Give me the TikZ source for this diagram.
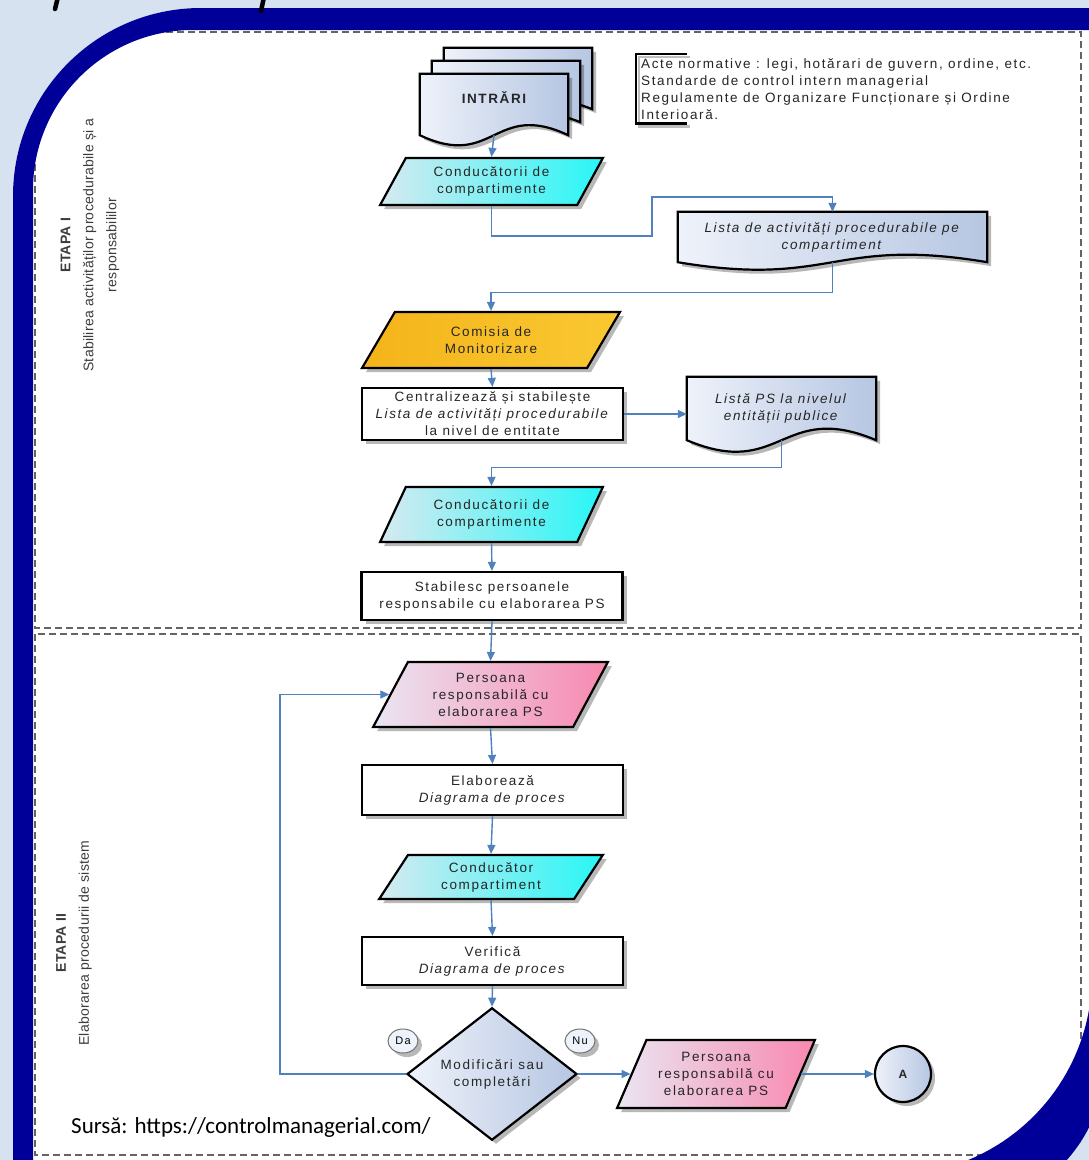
\documentclass[tikz,border=0pt]{standalone}
\usepackage{fontspec}
\setmainfont{Liberation Sans}
\newfontfamily\boxfont[LetterSpace=12]{Liberation Sans}
\newfontfamily\lanefont[LetterSpace=2]{Liberation Sans}
\newfontfamily\srcfont{Carlito}
\usetikzlibrary{shapes.geometric,arrows.meta,calc,shadows}

\pgfdeclarelayer{paper}
\pgfdeclarelayer{sheets}
\pgfdeclarelayer{frame}
\pgfsetlayers{paper,sheets,main,frame}

\definecolor{pagebg}{RGB}{214,226,240}
\definecolor{framebl}{RGB}{0,0,153}
\definecolor{linkbl}{RGB}{79,129,189}
\definecolor{cyanL}{RGB}{214,234,240}
\definecolor{cyanR}{RGB}{40,246,246}
\definecolor{goldL}{RGB}{244,180,26}
\definecolor{goldR}{RGB}{250,200,50}
\definecolor{pinkL}{RGB}{234,230,242}
\definecolor{pinkR}{RGB}{248,136,176}
\definecolor{docL}{RGB}{238,242,250}
\definecolor{docR}{RGB}{182,198,226}
\definecolor{lanegray}{RGB}{100,100,100}
\definecolor{labelgray}{RGB}{60,60,60}

% document sheet with a wavy lower edge, drawn round a named node
\newcommand\docoutline[2]{%
  \draw[docfill] (#1.north west) -- (#1.north east) -- (#1.south east)
    .. controls ($(#1.south east)!0.5!(#1.south west)+(0,-#2)$)
            and ($(#1.south east)!0.5!(#1.south west)+(0,#2)$) .. (#1.south west) -- cycle;}

\begin{document}
\begin{tikzpicture}[x=1pt,y=-1pt,
  boxshadow/.style={drop shadow={shadow xshift=4pt,shadow yshift=-4pt,opacity=0.28,fill=black}},
  boxtext/.style={font=\boxfont\fontsize{13.5}{17}\selectfont, align=center, text=black!85},
  base/.style={boxtext, draw=black, line width=2.2pt, inner sep=2pt, boxshadow},
  procbox/.style={base, rectangle, fill=white, minimum width=261pt},
  para/.style={base, trapezium, trapezium left angle=62, trapezium right angle=118,
               trapezium stretches=true},
  cyanpara/.style={para, left color=cyanL, right color=cyanR},
  goldpara/.style={para, left color=goldL, right color=goldR},
  pinkpara/.style={para, left color=pinkL, right color=pinkR},
  docnode/.style={boxtext, rectangle, inner sep=0pt},
  docfill/.style={draw=black, line width=2.2pt, left color=docL, right color=docR, boxshadow},
  link/.style={draw=linkbl, line width=1.4pt, -{Triangle[length=9pt,width=8pt]}},
  lane/.style={draw=lanegray, line width=1.1pt, dash pattern=on 7pt off 4pt},
  lanelabel/.style={rotate=90, align=center, text=labelgray, font=\lanefont\fontsize{14}{23}\selectfont},
  answer/.style={ellipse, draw=black!55, line width=1pt, fill=docL, inner sep=0pt,
                 minimum width=30pt, minimum height=24pt, boxshadow,
                 font=\boxfont\fontsize{11}{12}\selectfont}]
\useasboundingbox (0,0) rectangle (1089,1160);

% sheet and swimlanes
\begin{pgfonlayer}{paper}
  \fill[white] (0,0) rectangle (1089,1160);
  \draw[lane] (35,32) rectangle (1081,628);
  \draw[lane] (35,634) rectangle (1081,1155);
\end{pgfonlayer}

\node[lanelabel] (etapa1) at (90,245)
  {\textbf{ETAPA I}\\Stabilirea activităților procedurabile și a\\responsabililor};
\node[lanelabel] (etapa2) at (74,943)
  {\textbf{ETAPA II}\\Elaborarea procedurii de sistem};

% inputs: stack of three sheets
\node[docnode, minimum width=148pt, minimum height=61pt] (intrb) at (518,78.5) {};
\node[docnode, minimum width=148pt, minimum height=61pt] (intrm) at (506,91.5) {};
\node[docnode, minimum width=148pt, minimum height=61pt, text depth=14pt,
      font=\boxfont\fontsize{13.5}{17}\selectfont\bfseries] (intr) at (494,104.5) {INTRĂRI};
\begin{pgfonlayer}{sheets}
  \docoutline{intrb}{30}
  \docoutline{intrm}{30}
  \docoutline{intr}{35}
\end{pgfonlayer}

% note on the inputs, with its bracket and the bracket's soft shadow
\node[boxtext, anchor=north west, align=left, inner sep=0pt] (note) at (641,58)
  {Acte normative : legi, hotărari de guvern, ordine, etc.\\
   Standarde de control intern managerial\\
   Regulamente de Organizare Funcționare și Ordine\\
   Interioară.};
\coordinate (nta) at ($(note.north west)+(46,-4)$);
\coordinate (ntb) at ($(note.north west)+(-5,-4)$);
\coordinate (ntc) at ($(note.south west)+(-5,4)$);
\coordinate (ntd) at ($(note.south west)+(46,4)$);
\draw[line width=2.4pt, black!25] ($(nta)+(3,3)$) -- ($(ntb)+(3,3)$) -- ($(ntc)+(3,3)$) -- ($(ntd)+(3,3)$);
\draw[line width=2.4pt] (nta) -- (ntb) -- (ntc) -- (ntd);

% stage I
\node[cyanpara, minimum width=223pt, minimum height=47pt] (cond1) at (491.5,181.5)
  {Conducătorii de\\compartimente};
\node[docnode, minimum width=309pt, minimum height=50pt] (lista) at (832.5,237)
  {\textit{Lista de activități procedurabile pe}\\\textit{compartiment}};
\node[goldpara, minimum width=258pt, minimum height=56pt] (comisia) at (491,340)
  {Comisia de\\Monitorizare};
\node[procbox, minimum height=52pt] (centr) at (492.5,414)
  {Centralizează și stabilește\\\textit{Lista de activități procedurabile}\\la nivel de entitate};
\node[docnode, minimum width=189pt, minimum height=63pt] (listaps) at (781.5,408.5)
  {\textit{Listă PS la nivelul}\\\textit{entității publice}};
\node[cyanpara, minimum width=223pt, minimum height=55pt] (cond2) at (491.5,514.5)
  {Conducătorii de\\compartimente};
\node[procbox, minimum height=48pt] (stab) at (492,596)
  {Stabilesc persoanele\\responsabile cu elaborarea PS};
\begin{pgfonlayer}{sheets}
  \docoutline{lista}{26}
  \docoutline{listaps}{40}
\end{pgfonlayer}

% stage II
\node[pinkpara, minimum width=235pt, minimum height=65pt] (pers1) at (490.5,694.5)
  {Persoana\\responsabilă cu\\elaborarea PS};
\node[procbox, minimum height=50pt] (elab) at (492.5,790)
  {Elaborează\\\textit{Diagrama de proces}};
\node[cyanpara, minimum width=224pt, minimum height=44pt] (cond3) at (491,877)
  {Conducător\\compartiment};
\node[procbox, minimum height=48pt] (verif) at (492.5,961)
  {Verifică\\\textit{Diagrama de proces}};
\node[base, diamond, inner sep=0pt, minimum width=170pt, minimum height=108pt,
      left color=docL, right color=docR] (dia) at (492,1074)
  {Modificări sau\\completări};
\node[answer] (da) at (403,1041) {Da};
\node[answer] (nu) at (580,1041) {Nu};
\node[pinkpara, minimum width=198pt, minimum height=68pt] (pers2) at (716,1074)
  {Persoana\\responsabilă cu\\elaborarea PS};
\node[base, circle, minimum size=56pt, inner sep=0pt, left color=docL, right color=docR,
      font=\boxfont\fontsize{12}{14}\selectfont\bfseries] (conA) at (903,1074) {A};

\node[anchor=west, inner sep=0pt, font=\srcfont\fontsize{23}{26}\selectfont] (src) at (71,1127)
  {Sursă: https://controlmanagerial.com/};

% connectors
\coordinate (k1) at (652,236);
\coordinate (k2) at (652,197);
\coordinate (k4) at (280,880);
\draw[link] (intr.south) -- (cond1.north);
\draw[link] (cond1.south) |- (k1) -- (k2) -| (lista.north);
\draw[link] (lista.south) -- ++(0,30) -| (comisia.north);
\draw[link] (comisia.south) -- (centr.north);
\draw[link] (centr.east) -- (centr.east -| listaps.west);
\draw[link] (listaps.south) -- ++(0,27) -| (cond2.north);
\draw[link] (cond2.south) -- (stab.north);
\draw[link] (stab.south) -- (pers1.north);
\draw[link] (pers1.south) -- (elab.north);
\draw[link] (elab.south) -- (cond3.north);
\draw[link] (cond3.south) -- (verif.north);
\draw[link] (verif.south) -- (dia.north);
\draw[link] (dia.west) -| (k4) |- (pers1.left side);
\draw[link] (dia.east) -- (pers2.left side);
\draw[link] (pers2.right side) -- (conA.west);

% rounded blue frame over the page background
\begin{pgfonlayer}{frame}
  \fill[pagebg, even odd rule] (-5,-5) rectangle (1095,1165)
    (13,1210) -- (13,196) .. controls (13,92.2) and (97.2,8) .. (201,8) -- (1105,8)
    -- (1105,1060) .. controls (1105,1142.8) and (1037.8,1210) .. (955,1210) -- cycle;
  \fill[framebl, even odd rule]
    (13,1210) -- (13,196) .. controls (13,92.2) and (97.2,8) .. (201,8) -- (1105,8)
    -- (1105,1060) .. controls (1105,1142.8) and (1037.8,1210) .. (955,1210) -- cycle
    (33,1175) -- (33,190) .. controls (33,101.6) and (104.6,30) .. (193,30) -- (1092,30)
    -- (1092,975) .. controls (1092,1085.5) and (1002.5,1175) .. (892,1175) -- cycle;
  \draw[line width=4.5pt, line cap=round] (58,-3) -- (55,9);
  \draw[line width=4.5pt, line cap=round] (264,-3) -- (261,11);
\end{pgfonlayer}
\end{tikzpicture}
\end{document}
